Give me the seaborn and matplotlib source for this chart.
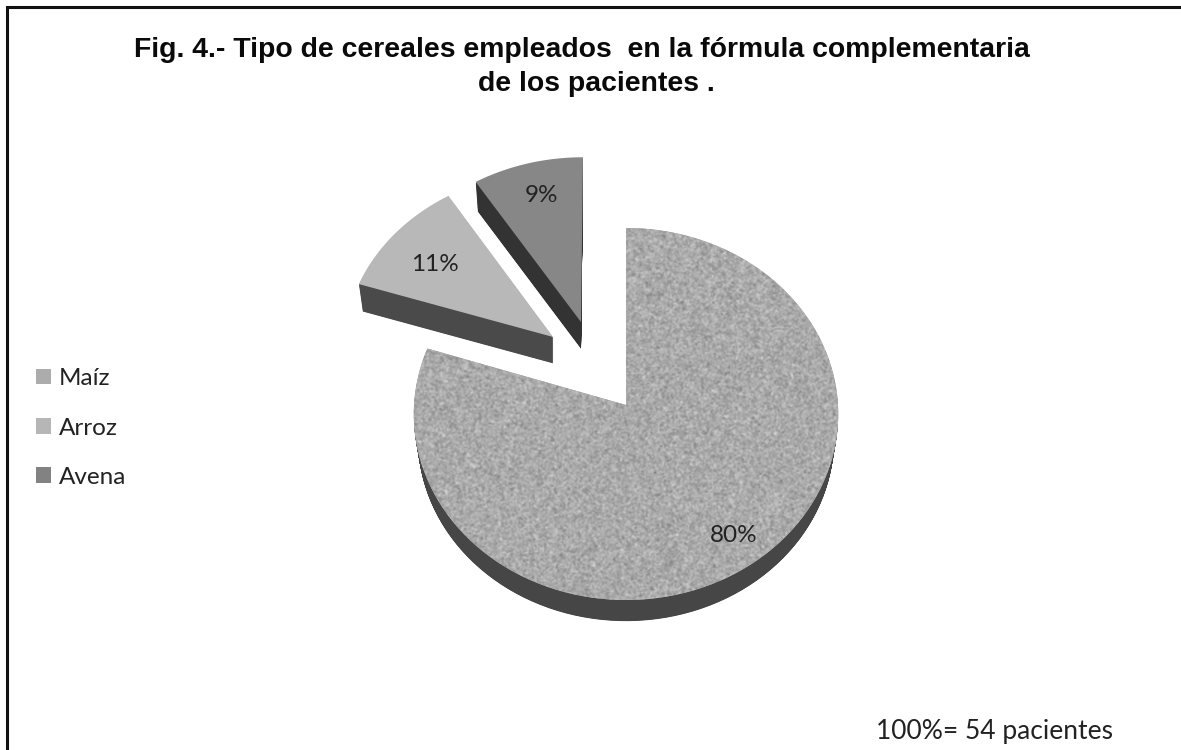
import numpy as np
import matplotlib
matplotlib.use("Agg")
import matplotlib.pyplot as plt
from matplotlib.patches import Patch
import seaborn as sns

# Chart content
categories = ["Maíz", "Arroz", "Avena"]
percentages = [80, 11, 9]
title_lines = ["Fig. 4.- Tipo de cereales empleados  en la fórmula complementaria",
               "de los pacientes ."]
footnote = "100%= 54 pacientes"

# Appearance
top_colors = sns.color_palette(["#acacac", "#b8b8b8", "#878787"])
side_colors = sns.color_palette(["#464646", "#4a4a4a", "#333333"])
swatch_colors = sns.color_palette(["#acacac", "#b6b6b6", "#828282"])
slice_offsets = [(0.0, 0.0), (-0.35, 0.373), (-0.217, 0.457)]
depth_scale = [1.0, 0.97, 0.97]
label_offsets = [(0.49, -0.68), (-0.585, 0.41), (-0.205, 0.735)]

# Projection of the tilted disc onto the canvas (pixel coordinates)
CX, CY = 626.0, 405.0
RX, RY = 212.0, 185.6
PERSP = 0.0484
EXTRUDE = 25.0
SHRINK = 0.98


def project(u, v):
    den = 1 + PERSP * v
    return CX + RX * u / den, CY - RY * v / den


def slice_outline(start_frac, frac, offset, v_scale):
    # Angles run clockwise from twelve o'clock
    theta = 2 * np.pi * (start_frac + np.linspace(0, frac, 120))
    u = np.concatenate([[0], np.sin(theta)]) + offset[0]
    v = np.concatenate([[0], v_scale * np.cos(theta)]) + offset[1]
    return project(u, v)


sns.set_theme(style="white")
plt.rcParams["font.family"] = ["Lato", "DejaVu Sans"]

fig = plt.figure(figsize=(11.81, 7.5), dpi=100, facecolor="white")
ax = fig.add_axes([0, 0, 1, 1])
ax.set_xlim(0, 1181)
ax.set_ylim(750, 0)
ax.axis("off")

# Frame: left and top rules only
ax.plot([7, 7, 1181], [750, 7, 7], color="#111111", lw=2.2,
        solid_joinstyle="miter", zorder=1)

# Grain for the largest slice
rng = np.random.default_rng(4)
grain = 170 + 20 * rng.standard_normal((270, 300))

starts = np.concatenate([[0], np.cumsum(percentages)[:-1]]) / 100
for i, (pct, start) in enumerate(zip(percentages, starts)):
    frac = pct / 100
    x, y = slice_outline(start, frac, slice_offsets[i], depth_scale[i])

    # Extruded side: stacked copies running down to the lower face
    for t in np.linspace(1, 0.04, 60):
        sx = x[0] + (x - x[0]) * (1 + (SHRINK - 1) * t)
        sy = CY + (y - CY) * (1 + (SHRINK - 1) * t) + EXTRUDE * t
        ax.fill(sx, sy, color=side_colors[i], lw=0, zorder=2 + i)

    top = ax.fill(x, y, color=top_colors[i], lw=0, zorder=3 + i)[0]
    if i == 0:
        img = ax.imshow(grain, cmap="gray", vmin=0, vmax=255, interpolation="bicubic",
                        extent=(400, 850, 620, 220), aspect="auto", zorder=3.5)
        img.set_clip_path(top)
        ax.set_xlim(0, 1181)
        ax.set_ylim(750, 0)

    # Percentage label inside the slice
    lx, ly = project(slice_offsets[i][0] + label_offsets[i][0],
                     slice_offsets[i][1] + label_offsets[i][1])
    ax.text(lx, ly, f"{pct}%", ha="center", va="center", fontsize=17.5,
            color="#222222", zorder=10)

# Title
for line, xpos, ypos in zip(title_lines, [581.5, 596.5], [50, 84]):
    ax.text(xpos, ypos, line, ha="center", va="center", fontsize=20.4, fontweight="bold",
            family=["Liberation Sans"], color="#0a0a0a", zorder=10)

# Legend on the left
handles = [Patch(facecolor=c, edgecolor="none") for c in swatch_colors]
ax.legend(handles, categories, loc="center left", bbox_to_anchor=(36 / 1181, 1 - 428 / 750),
          bbox_transform=fig.transFigure, frameon=False, fontsize=17.5, labelspacing=1.16,
          handlelength=0.6, handleheight=0.6, handletextpad=0.35, borderpad=0, borderaxespad=0,
          labelcolor="#222222")

ax.text(1113, 731, footnote, ha="right", va="center", fontsize=19, color="#222222", zorder=10)

fig.savefig("out.png", dpi=100, facecolor="white")
